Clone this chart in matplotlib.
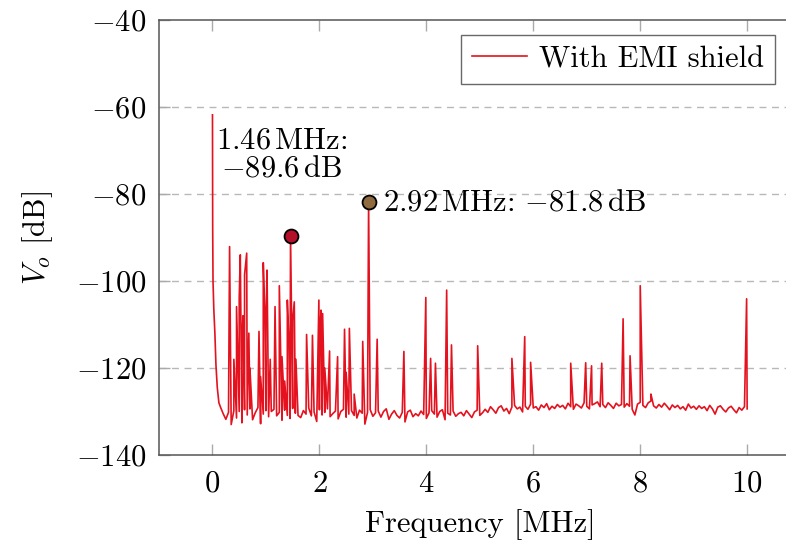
import numpy as np
import matplotlib
matplotlib.use("Agg")
import matplotlib.pyplot as plt

# LaTeX-like look (pgfplots figure)
plt.rcParams["font.family"] = "serif"
plt.rcParams["font.serif"] = ["cmr10", "DejaVu Serif"]
plt.rcParams["mathtext.fontset"] = "cm"
plt.rcParams["axes.formatter.use_mathtext"] = True
plt.rcParams["font.size"] = 22

# Low-frequency roll-off right after DC [MHz], [dB]
dc_freq = [0.0, 0.004, 0.01, 0.025, 0.045, 0.065, 0.09, 0.12]
dc_db = [-61.8, -88.0, -100.0, -106.5, -112.0, -119.3, -124.5, -128.0]

# Noise floor, 0.15 MHz to 10 MHz every 0.05 MHz
floor_db = [
    -129.0, -130.5, -131.8, -130.2, -133.0, -129.8, -131.5, -130.0, -132.6, -129.6,
    -130.8, -129.4, -131.9, -130.3, -129.1, -132.8, -130.6, -129.8, -131.2, -130.0,
    -129.5, -131.0, -130.2, -132.0, -129.7, -130.9, -131.6, -129.3, -130.4, -130.9,
    -131.4, -129.8, -130.6, -129.2, -131.0, -130.1, -132.3, -129.6, -130.8, -130.2,
    -129.4, -131.2, -130.5, -129.9, -131.7, -130.0, -129.5, -131.3, -130.6, -129.8,
    -130.9, -131.5, -129.7, -130.4, -132.9, -130.2, -129.6, -131.1, -130.3, -129.9,
    -131.3, -130.0, -129.4, -131.8, -130.6, -129.8, -130.9, -131.5, -130.2, -132.4,
    -130.1, -129.7, -131.2, -130.5, -131.0, -129.9, -130.7, -131.6, -130.3, -129.8,
    -130.6, -131.3, -130.0, -129.6, -131.9, -130.4, -130.8, -129.9, -131.1, -130.5,
    -130.2, -131.0, -129.8, -130.6, -131.4, -130.1, -129.7, -130.9, -130.3, -129.5,
    -130.2, -128.9, -129.6, -130.4, -129.1, -128.7, -129.9, -129.3, -130.5, -129.0,
    -128.6, -129.4, -129.0, -130.1, -128.8, -129.5, -128.3, -129.2, -128.9, -129.7,
    -128.5, -129.1, -128.2, -129.6, -128.8, -129.3, -128.4, -129.0, -128.6, -129.4,
    -128.1, -128.9, -129.5, -128.3, -128.7, -129.2, -128.0, -128.8, -129.4, -128.5,
    -128.2, -127.8, -128.9, -128.4, -129.1, -128.0, -128.6, -129.3, -128.1, -128.7,
    -128.4, -129.0, -128.2, -128.8, -129.5, -130.8, -128.3, -127.9, -128.6, -129.1,
    -128.0, -127.6, -128.7, -129.2, -128.4, -129.0, -128.1, -128.8, -129.6, -128.5,
    -129.1, -128.6, -129.4, -128.9, -129.7, -128.3, -129.2, -128.8, -129.5, -128.7,
    -129.3, -128.9, -129.8, -128.6, -129.4, -130.6, -129.0, -128.7, -129.5, -130.1,
    -129.2, -128.8, -129.6, -130.3, -129.1, -129.7, -128.9, -129.4,
]
floor_freq = np.linspace(0.15, 10.0, len(floor_db))

# Spectral lines (harmonics / spurs) [MHz], [dB]
spike_freq = [0.32, 0.40, 0.45, 0.50, 0.52, 0.55, 0.57, 0.60, 0.64, 0.68,
              0.70, 0.87, 0.90, 0.95, 0.98, 1.00, 1.02, 1.08, 1.17, 1.25,
              1.30, 1.35, 1.40, 1.43, 1.46, 1.50, 1.53, 1.56, 1.76, 1.87,
              1.99, 2.01, 2.03, 2.06, 2.10, 2.19, 2.34, 2.47, 2.50, 2.56,
              2.65, 2.81, 2.92, 2.94, 3.08, 3.58, 3.99, 4.08, 4.17, 4.38,
              4.47, 4.96, 5.60, 5.84, 5.95, 6.70, 6.98, 7.09, 7.28, 7.68,
              7.81, 8.00, 8.20, 9.99]
spike_db = [-92.1, -118.0, -105.9, -104.0, -94.0, -115.0, -108.0, -98.6, -93.6, -112.0,
            -120.0, -111.6, -122.0, -95.8, -108.0, -110.0, -97.5, -118.0, -105.9, -101.1,
            -117.4, -123.0, -104.4, -114.0, -89.6, -109.0, -104.8, -118.0, -112.3, -112.5,
            -104.4, -112.0, -106.7, -107.5, -120.0, -116.1, -117.4, -111.1, -121.0, -110.9,
            -126.0, -113.9, -81.8, -116.0, -113.4, -116.2, -103.8, -117.8, -118.9, -102.1,
            -114.7, -114.9, -117.8, -112.8, -118.7, -118.9, -118.8, -119.5, -118.9, -108.7,
            -117.2, -101.1, -126.0, -104.1]

# Marked peaks
peak_freq = [1.46, 2.92]
peak_db = [-89.6, -81.8]
peak_colors = ["#b5102a", "#8e6a3e"]

# merge everything into one trace sorted by frequency
freq = np.concatenate([dc_freq, floor_freq, spike_freq])
vals = np.concatenate([dc_db, floor_db, spike_db])
order = np.argsort(freq, kind="stable")
freq, vals = freq[order], vals[order]

fig = plt.figure(figsize=(7.86, 5.43), dpi=100)
ax = fig.add_axes([0.2023, 0.1621, 0.8163, 0.8011])

line_color = "#e4121e"
ax.plot(freq, vals, color=line_color, lw=1.2, label="With EMI shield", zorder=3)

for f, v, c in zip(peak_freq, peak_db, peak_colors):
    ax.plot(f, v, "o", ms=10, mfc=c, mec="black", mew=1.3, zorder=5)

ax.text(1.30, -71.0, "$1.46\\,\\mathrm{MHz}$:\n$-89.6\\,\\mathrm{dB}$",
        ha="center", va="center", multialignment="center", linespacing=1.05)
ax.text(3.18, -82.1, "$2.92\\,\\mathrm{MHz}$: $-81.8\\,\\mathrm{dB}$",
        ha="left", va="center")

ax.set_xlim(-1, 11)
ax.set_ylim(-140, -40)
ax.set_xticks([0, 2, 4, 6, 8, 10])
ax.set_yticks([-140, -120, -100, -80, -60, -40])
ax.tick_params(direction="in", length=8, width=1, color="#aaaaaa",
               top=True, right=True, pad=9)
ax.tick_params(axis="x", pad=11)
for sp in ax.spines.values():
    sp.set_color("#555555")
    sp.set_linewidth(1.1)

for y in [-60, -80, -100, -120]:
    ax.axhline(y, color="#b8b8b8", lw=1.0, ls=(0, (5, 4)), zorder=1)

ax.set_xlabel("Frequency [MHz]", labelpad=8)
ax.set_ylabel("$V_o$ [dB]", labelpad=15)

leg = ax.legend(loc="upper right", bbox_to_anchor=(0.986, 0.9355),
                bbox_transform=fig.transFigure, fancybox=False, borderaxespad=0,
                handlelength=1.8, handletextpad=0.4, borderpad=0.35)
leg.get_frame().set_edgecolor("#444444")
leg.get_frame().set_linewidth(1.0)

fig.savefig("out.png", dpi=100)
